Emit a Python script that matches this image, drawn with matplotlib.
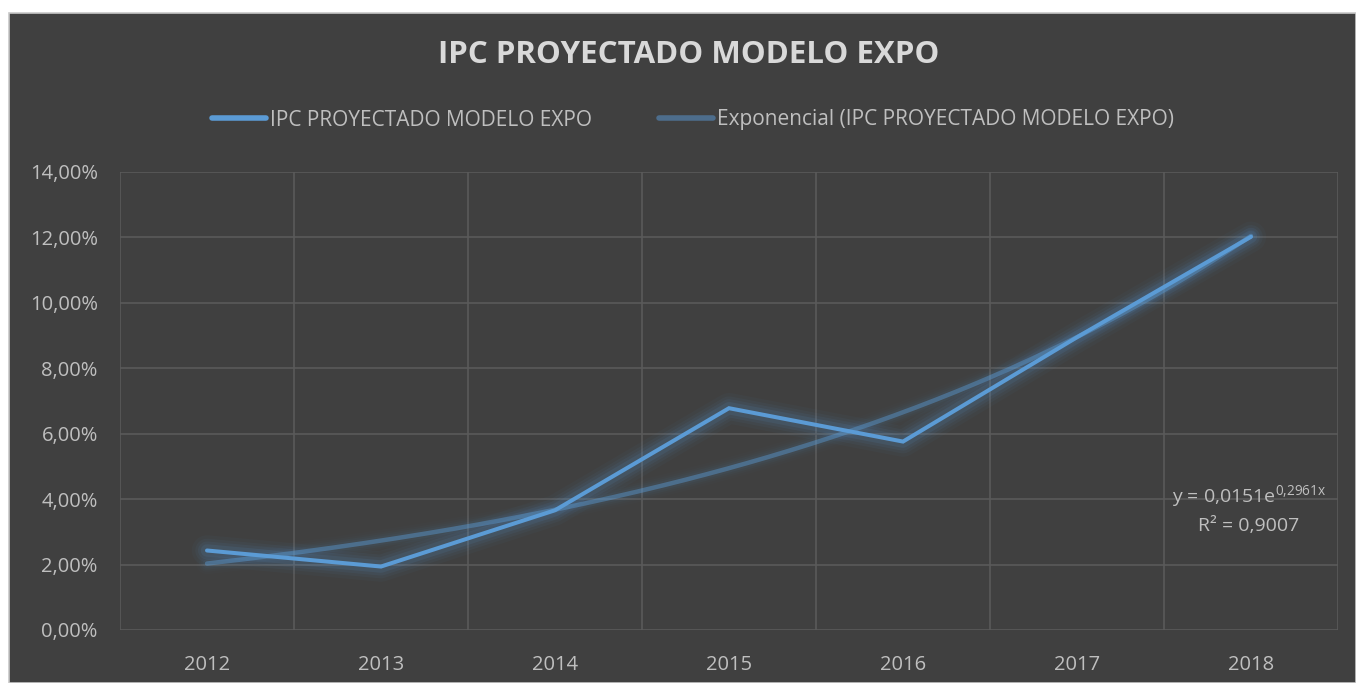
import numpy as np
import matplotlib
matplotlib.use('Agg')
import matplotlib.pyplot as plt
from matplotlib.patches import Rectangle
from matplotlib.ticker import FuncFormatter, MultipleLocator

# Datos
years = ['2012', '2013', '2014', '2015', '2016', '2017', '2018']
ipc = [0.0243, 0.0194, 0.0366, 0.0678, 0.0576, 0.0895, 0.1202]
series_name = 'IPC PROYECTADO MODELO EXPO'
trend_name = 'Exponencial (IPC PROYECTADO MODELO EXPO)'
eq_text = 'y = 0,0151e$^{\\mathregular{0{,}2961x}}$'
r2_text = 'R² = 0,9007'

plt.rcParams['font.family'] = ['Open Sans', 'DejaVu Sans']

BG = '#404040'
GRID = '#5a5a5a'
TXT = '#bfbfbf'
BLUE = '#5b9bd5'

fig = plt.figure(figsize=(13.56, 6.83), dpi=100)
fig.patch.set_facecolor('white')
fig.add_artist(Rectangle((9 / 1356, 0), 1 - 9 / 1356, 1 - 13 / 683,
                         transform=fig.transFigure, facecolor=BG,
                         edgecolor='#c8c8c8', linewidth=1.2, zorder=0))

ax = fig.add_axes([120 / 1356, 1 - 630 / 683, (1338 - 120) / 1356, (630 - 172) / 683])
ax.set_facecolor(BG)
ax.patch.set_alpha(0)

x = np.arange(len(years))

# Tendencia exponencial (ajuste por mínimos cuadrados sobre el logaritmo, como Excel)
xs = x + 1
b, ln_a = np.polyfit(xs, np.log(ipc), 1)
xf = np.linspace(1, len(years), 200)
yf = np.exp(ln_a) * np.exp(b * xf)

# brillo (glow)
for w, a in [(22, 0.035), (17, 0.05), (13, 0.07), (9, 0.10)]:
    ax.plot(x, ipc, color=BLUE, lw=w, alpha=a, solid_capstyle='round',
            solid_joinstyle='round', zorder=2)
    ax.plot(xf - 1, yf, color=BLUE, lw=w * 0.7, alpha=a * 0.5,
            solid_capstyle='round', zorder=2)

trend, = ax.plot(xf - 1, yf, color=BLUE, lw=3.2, alpha=0.45,
                 solid_capstyle='round', zorder=3, label=trend_name)
main, = ax.plot(x, ipc, color=BLUE, lw=2.9, solid_capstyle='round',
                solid_joinstyle='miter', zorder=4, label=series_name)

ax.set_xlim(-0.5, len(years) - 0.5)
ax.set_ylim(0, 0.14)
ax.yaxis.set_major_locator(MultipleLocator(0.02))
ax.yaxis.set_major_formatter(FuncFormatter(lambda v, p: f'{v * 100:.2f}%'.replace('.', ',')))
ax.set_xticks(x)
ax.set_xticklabels(years)
ax.set_xticks(np.arange(-0.5, len(years), 1), minor=True)

ax.grid(axis='y', which='major', color=GRID, lw=1.2)
ax.grid(axis='x', which='minor', color=GRID, lw=1.2)
ax.set_axisbelow(True)
for s in ax.spines.values():
    s.set_visible(False)
ax.tick_params(which='both', length=0, colors=TXT, labelsize=14.5)
ax.tick_params(axis='y', pad=16)
ax.tick_params(axis='x', pad=18)

fig.text(689 / 1356, 1 - 55 / 683, 'IPC PROYECTADO MODELO EXPO', ha='center', va='center',
         color='#d9d9d9', fontsize=22.5, fontweight='bold')

leg = fig.legend(handles=[main, trend], labels=[series_name, trend_name],
                 loc='center', bbox_to_anchor=(693 / 1356, 1 - 120 / 683), ncol=2,
                 frameon=False, fontsize=15, labelcolor=TXT, handlelength=2.6,
                 handletextpad=0.2, columnspacing=3.2)
for h in leg.legend_handles:
    h.set_linewidth(4)
    h.set_alpha(1)
leg.legend_handles[1].set_color('#4d6d8c')

fig.text(1249 / 1356, 1 - 497 / 683, eq_text, ha='center', va='center', color=TXT, fontsize=14)
fig.text(1249 / 1356, 1 - 526 / 683, r2_text, ha='center', va='center', color=TXT, fontsize=14)

fig.savefig('out.png', dpi=100, facecolor=fig.get_facecolor())
